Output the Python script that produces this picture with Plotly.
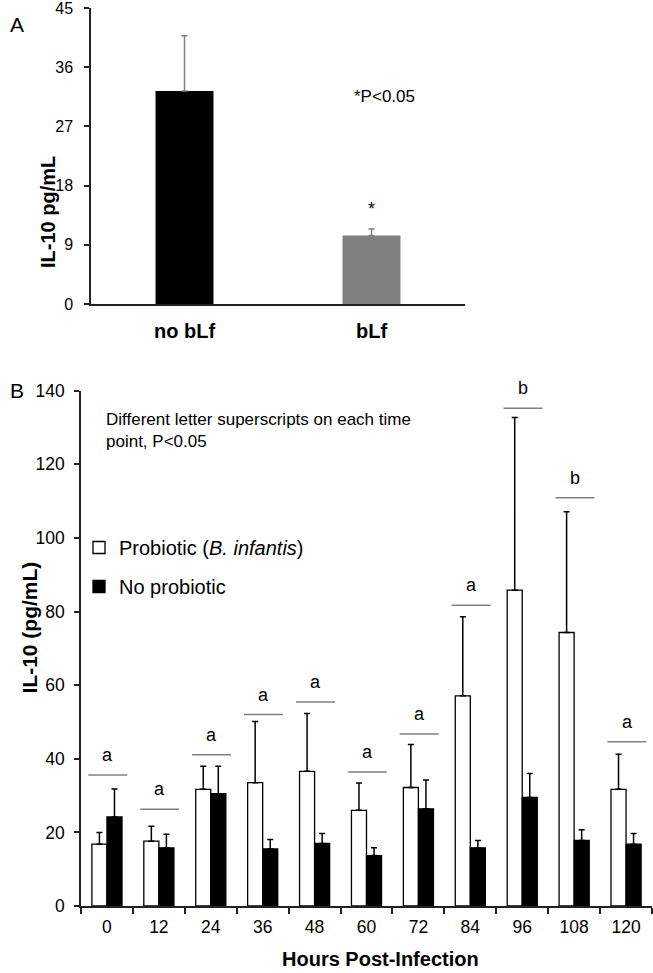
import plotly.graph_objects as go

# ---------------- Panel A data ----------------
a_categories = ["no bLf", "bLf"]
a_values = [32.4, 10.4]
a_err = [8.4, 1.0]
a_colors = ["#000000", "#808080"]

# ---------------- Panel B data ----------------
b_hours = ["0", "12", "24", "36", "48", "60", "72", "84", "96", "108", "120"]
b_probiotic = [16.8, 17.6, 31.7, 33.5, 36.6, 26.0, 32.2, 57.1, 85.8, 74.3, 31.7]
b_probiotic_err = [3.2, 4.1, 6.3, 16.6, 15.7, 7.4, 11.7, 21.5, 46.9, 32.8, 9.5]
b_noprobiotic = [24.2, 15.8, 30.5, 15.5, 17.0, 13.7, 26.4, 15.8, 29.5, 17.8, 16.8]
b_noprobiotic_err = [7.6, 3.7, 7.5, 2.6, 2.7, 2.1, 7.8, 2.0, 6.5, 2.9, 2.9]
b_sig_y = [35.6, 26.3, 41.1, 52.0, 55.4, 36.4, 46.7, 81.7, 135.2, 110.9, 44.6]
b_letters = ["a", "a", "a", "a", "a", "a", "a", "a", "b", "b", "a"]

W, H = 653, 973
FONT = "Liberation Sans, Arial, sans-serif"

def px_x(p):
    return p / W

def px_y(p):
    return 1 - p / H

fig = go.Figure()

# Panel A
fig.add_trace(go.Bar(
    x=a_categories, y=a_values, width=0.31,
    marker=dict(color=a_colors, line=dict(width=0)),
    error_y=dict(type="data", array=a_err, arrayminus=[0, 0], symmetric=False,
                 color="#808080", thickness=1.5, width=3),
    xaxis="x", yaxis="y", showlegend=False,
))

# Panel B
fig.add_trace(go.Bar(
    x=b_hours, y=b_probiotic, name="Probiotic (<i>B. infantis</i>)",
    marker=dict(color="white", line=dict(color="black", width=1.3)),
    error_y=dict(type="data", array=b_probiotic_err, arrayminus=[0] * len(b_hours),
                 symmetric=False, color="black", thickness=1.5, width=3),
    xaxis="x2", yaxis="y2", legendgroup="p",
))
fig.add_trace(go.Bar(
    x=b_hours, y=b_noprobiotic, name="No probiotic",
    marker=dict(color="black", line=dict(color="black", width=1.3)),
    error_y=dict(type="data", array=b_noprobiotic_err, arrayminus=[0] * len(b_hours),
                 symmetric=False, color="black", thickness=1.5, width=3),
    xaxis="x2", yaxis="y2", legendgroup="n",
))

# significance lines and letters
shapes = []
annotations = []
for i, (yv, lt) in enumerate(zip(b_sig_y, b_letters)):
    shapes.append(dict(type="line", xref="x2", yref="y2", x0=i - 0.36, x1=i + 0.39,
                       y0=yv, y1=yv, line=dict(color="#808080", width=1.5)))
    annotations.append(dict(x=i + 0.02, y=yv, xref="x2", yref="y2", text=lt, showarrow=False,
                            yshift=20, font=dict(size=18, color="black", family=FONT)))

# panel A annotations
annotations.append(dict(x="bLf", y=a_values[1] + a_err[1], xref="x", yref="y", text="*",
                        showarrow=False, yshift=20, font=dict(size=18, color="black", family=FONT)))
annotations += [
    dict(x=px_x(385), y=px_y(85), xref="paper", yref="paper", text="*P<0.05", showarrow=False,
         font=dict(size=17, color="black", family=FONT)),
    dict(x=px_x(8), y=px_y(11), xref="paper", yref="paper", text="A", showarrow=False,
         font=dict(size=21, color="black", family=FONT)),
    dict(x=px_x(8), y=px_y(390), xref="paper", yref="paper", text="B", showarrow=False,
         font=dict(size=21, color="black", family=FONT)),
    dict(x=px_x(35), y=px_y(154), xref="paper", yref="paper", text="<b>IL-10 pg/mL</b>",
         textangle=-90, showarrow=False, font=dict(size=20, color="black", family=FONT)),
    dict(x=px_x(15), y=px_y(628), xref="paper", yref="paper", text="<b>IL-10 (pg/mL)</b>",
         textangle=-90, showarrow=False, font=dict(size=21, color="black", family=FONT)),
    dict(x=px_x(380), y=px_y(972), xref="paper", yref="paper", yanchor="bottom",
         text="<b>Hours Post-Infection</b>",
         showarrow=False, font=dict(size=20, color="black", family=FONT)),
    dict(x=px_x(104), y=px_y(431), xref="paper", yref="paper", xanchor="left", align="left",
         text="Different letter superscripts on each time<br>point, P<0.05", showarrow=False,
         font=dict(size=17, color="black", family=FONT)),
]

axis_line = dict(showline=True, linecolor="#222222", linewidth=1.5, showgrid=False,
                 zeroline=False, automargin=False, ticklabeloverflow="allow")

fig.update_layout(
    width=W, height=H,
    margin=dict(l=0, r=0, t=0, b=0, autoexpand=False),
    paper_bgcolor="white", plot_bgcolor="white",
    font=dict(family=FONT, color="black"),
    barmode="group", bargap=0.42, bargroupgap=0,
    xaxis=dict(domain=[px_x(91), px_x(465)], anchor="y", type="category",
               ticks="", tickfont=dict(size=20, family=FONT), ticklabelstandoff=8,
               tickvals=a_categories, ticktext=["<b>no bLf</b>", "<b>bLf</b>"], **axis_line),
    yaxis=dict(domain=[px_y(304), px_y(8)], anchor="x", range=[0, 45], tickvals=[0, 9, 18, 27, 36, 45],
               ticks="outside", ticklen=5, tickcolor="#222222", tickwidth=1.5,
               tickfont=dict(size=16, family=FONT), ticklabelstandoff=8, **axis_line),
    xaxis2=dict(domain=[px_x(81), px_x(652)], anchor="y2", type="category",
                tickson="boundaries", ticks="outside", ticklen=6, tickcolor="#222222", tickwidth=1.5,
                tickfont=dict(size=17.5, family=FONT), ticklabelstandoff=4, **axis_line),
    yaxis2=dict(domain=[px_y(906), px_y(390.7)], anchor="x2", range=[0, 140],
                tickvals=[0, 20, 40, 60, 80, 100, 120, 140],
                ticks="outside", ticklen=5, tickcolor="#222222", tickwidth=1.5,
                tickfont=dict(size=17.5, family=FONT), ticklabelstandoff=6, **axis_line),
    legend=dict(x=px_x(79), y=px_y(528), xanchor="left", yanchor="top",
                font=dict(size=20, family=FONT, color="black"), tracegroupgap=10,
                bgcolor="rgba(0,0,0,0)", borderwidth=0),
    shapes=shapes, annotations=annotations,
)

fig.write_html(
    "out.html",
    config={"displayModeBar": False},
    post_script="document.body.style.margin='0';document.body.style.overflow='hidden';",
)
